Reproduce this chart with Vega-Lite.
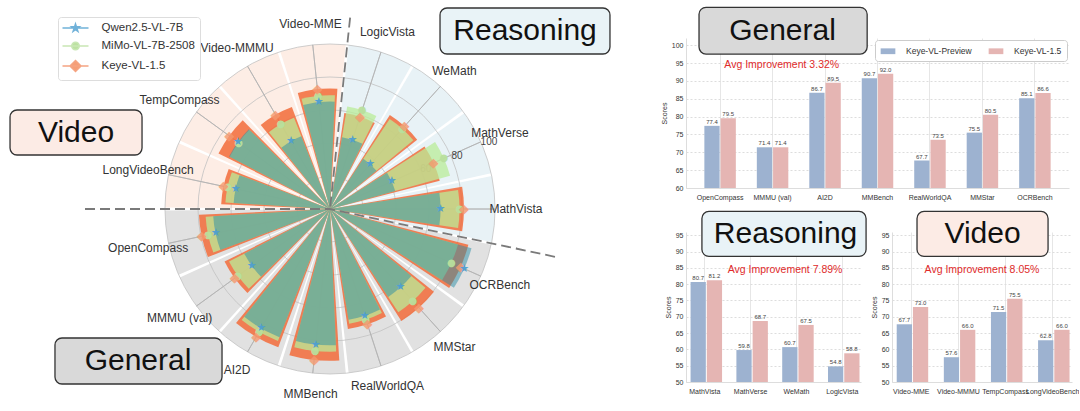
{
  "$schema": "https://vega.github.io/schema/vega-lite/v6.json",
  "padding": {"left": 0, "top": 6, "right": 0, "bottom": 0},
  "spacing": 0,
  "config": {
    "view": {"stroke": null},
    "font": "Liberation Sans",
    "axisY": {"titleFontSize": 7, "titleFontWeight": "normal", "titleColor": "#333333", "titlePadding": 4, "labelFontSize": 7, "labelColor": "#333333", "ticks": false, "domainColor": "#dddddd", "grid": true, "gridColor": "#dddddd", "gridDash": [2, 2], "labelPadding": 3, "labelOverlap": false},
    "axisX": {"labelAngle": 0, "labelFontSize": 7, "labelColor": "#333333", "ticks": false, "domainColor": "#dddddd", "grid": true, "gridColor": "#e6e6e6", "labelPadding": 5, "labelOverlap": false}
  },
  "resolve": {"scale": {"color": "independent", "fill": "independent"}, "legend": {"color": "independent", "fill": "independent"}},
  "datasets": {
    "radar": [
      {"k": 0, "bench": "LogicVista", "cat": "Reasoning", "qwen": 44.1, "mimo": 63.0, "keye": 58.8},
      {"k": 1, "bench": "WeMath", "cat": "Reasoning", "qwen": 36.5, "mimo": 65.5, "keye": 67.5},
      {"k": 2, "bench": "MathVerse", "cat": "Reasoning", "qwen": 41.0, "mimo": 75.5, "keye": 68.7},
      {"k": 3, "bench": "MathVista", "cat": "Reasoning", "qwen": 67.0, "mimo": 78.5, "keye": 81.2},
      {"k": 4, "bench": "OCRBench", "cat": "General", "qwen": 89.0, "mimo": 80.5, "keye": 86.6},
      {"k": 5, "bench": "MMStar", "cat": "General", "qwen": 63.9, "mimo": 75.0, "keye": 80.5},
      {"k": 6, "bench": "RealWorldQA", "cat": "General", "qwen": 68.0, "mimo": 70.5, "keye": 73.5},
      {"k": 7, "bench": "MMBench", "cat": "General", "qwen": 82.6, "mimo": 86.5, "keye": 92.0},
      {"k": 8, "bench": "AI2D", "cat": "General", "qwen": 83.5, "mimo": 86.0, "keye": 89.5},
      {"k": 9, "bench": "MMMU (val)", "cat": "General", "qwen": 58.6, "mimo": 69.0, "keye": 71.4},
      {"k": 10, "bench": "OpenCompass", "cat": "General", "qwen": 70.9, "mimo": 75.5, "keye": 79.5},
      {"k": 11, "bench": "LongVideoBench", "cat": "Video", "qwen": 58.5, "mimo": 63.5, "keye": 66.0},
      {"k": 12, "bench": "TempCompass", "cat": "Video", "qwen": 69.0, "mimo": 68.5, "keye": 75.5},
      {"k": 13, "bench": "Video-MMMU", "cat": "Video", "qwen": 47.4, "mimo": 59.5, "keye": 66.0},
      {"k": 14, "bench": "Video-MME", "cat": "Video", "qwen": 65.1, "mimo": 69.0, "keye": 73.0}
    ],
    "grid": [{"g": 20}, {"g": 40}, {"g": 60}, {"g": 80}, {"g": 100}],
    "general": [
      {"bench": "OpenCompass", "model": "preview", "score": 77.4}, {"bench": "OpenCompass", "model": "v15", "score": 79.5},
      {"bench": "MMMU (val)", "model": "preview", "score": 71.4}, {"bench": "MMMU (val)", "model": "v15", "score": 71.4},
      {"bench": "AI2D", "model": "preview", "score": 86.7}, {"bench": "AI2D", "model": "v15", "score": 89.5},
      {"bench": "MMBench", "model": "preview", "score": 90.7}, {"bench": "MMBench", "model": "v15", "score": 92.0},
      {"bench": "RealWorldQA", "model": "preview", "score": 67.7}, {"bench": "RealWorldQA", "model": "v15", "score": 73.5},
      {"bench": "MMStar", "model": "preview", "score": 75.5}, {"bench": "MMStar", "model": "v15", "score": 80.5},
      {"bench": "OCRBench", "model": "preview", "score": 85.1}, {"bench": "OCRBench", "model": "v15", "score": 86.6}
    ],
    "reasoning": [
      {"bench": "MathVista", "model": "preview", "score": 80.7}, {"bench": "MathVista", "model": "v15", "score": 81.2},
      {"bench": "MathVerse", "model": "preview", "score": 59.8}, {"bench": "MathVerse", "model": "v15", "score": 68.7},
      {"bench": "WeMath", "model": "preview", "score": 60.7}, {"bench": "WeMath", "model": "v15", "score": 67.5},
      {"bench": "LogicVista", "model": "preview", "score": 54.8}, {"bench": "LogicVista", "model": "v15", "score": 58.8}
    ],
    "video": [
      {"bench": "Video-MME", "model": "preview", "score": 67.7}, {"bench": "Video-MME", "model": "v15", "score": 73.0},
      {"bench": "Video-MMMU", "model": "preview", "score": 57.6}, {"bench": "Video-MMMU", "model": "v15", "score": 66.0},
      {"bench": "TempCompass", "model": "preview", "score": 71.5}, {"bench": "TempCompass", "model": "v15", "score": 75.5},
      {"bench": "LongVideoBench", "model": "preview", "score": 62.8}, {"bench": "LongVideoBench", "model": "v15", "score": 66.0}
    ]
  },
  "hconcat": [
    {
      "width": 660,
      "height": 342,
      "layer": [
        {
          "data": {"name": "radar"},
          "mark": {"type": "arc", "thetaOffset": -0.2007, "theta2Offset": 0.2007},
          "encoding": {
            "theta": {"field": "k", "type": "quantitative", "stack": null, "scale": {"domain": [0, 15], "range": [0.31416, 6.59734], "zero": false, "nice": false}},
            "theta2": {"field": "k"},
            "radius": {"datum": 100, "type": "quantitative", "stack": null, "scale": {"type": "linear", "domain": [0, 100], "range": [0, 165], "zero": true, "nice": false}},
            "fill": {"field": "cat", "type": "nominal", "scale": {"domain": ["Reasoning", "General", "Video"], "range": ["#e8f2f6", "#e1e1e1", "#fdede5"]}, "legend": null}
          }
        },
        {
          "data": {"name": "grid"},
          "mark": {"type": "arc", "theta": 0, "theta2": 6.2832, "fill": "transparent", "stroke": "#c2c2c2", "strokeWidth": 0.8},
          "encoding": {
            "radius": {"field": "g", "type": "quantitative", "stack": null, "scale": {"type": "linear", "domain": [0, 100], "range": [0, 165], "zero": true, "nice": false}}
          }
        },
        {
          "data": {"name": "radar"},
          "mark": {"type": "arc", "fill": "transparent", "stroke": "#b3b3b3", "strokeWidth": 0.8},
          "encoding": {
            "theta": {"field": "k", "type": "quantitative", "stack": null},
            "theta2": {"field": "k"},
            "radius": {"datum": 100, "type": "quantitative", "stack": null}
          }
        },
        {
          "data": {"values": [{}]},
          "mark": {"type": "text", "fontSize": 10, "color": "#555555"},
          "encoding": {
            "theta": {"datum": 2.05, "type": "quantitative", "stack": null},
            "radius": {"datum": 63, "type": "quantitative", "stack": null},
            "text": {"value": "60"}
          }
        },
        {
          "data": {"name": "radar"},
          "mark": {"type": "arc", "fill": "#f26b3a", "fillOpacity": 0.85, "thetaOffset": -0.166, "theta2Offset": 0.166},
          "encoding": {
            "theta": {"field": "k", "type": "quantitative", "stack": null},
            "theta2": {"field": "k"},
            "radius": {"field": "keye", "type": "quantitative", "stack": null}
          }
        },
        {
          "data": {"name": "radar"},
          "mark": {"type": "arc", "fill": "#b9ec98", "fillOpacity": 0.75, "thetaOffset": -0.148, "theta2Offset": 0.148},
          "encoding": {
            "theta": {"field": "k", "type": "quantitative", "stack": null},
            "theta2": {"field": "k"},
            "radius": {"field": "mimo", "type": "quantitative", "stack": null}
          }
        },
        {
          "data": {"name": "radar"},
          "mark": {"type": "arc", "fill": "#2c8ea5", "fillOpacity": 0.5, "thetaOffset": -0.148, "theta2Offset": 0.148},
          "encoding": {
            "theta": {"field": "k", "type": "quantitative", "stack": null},
            "theta2": {"field": "k"},
            "radius": {"field": "qwen", "type": "quantitative", "stack": null}
          }
        },
        {
          "data": {"values": [{}]},
          "mark": {"type": "text", "fontSize": 10, "color": "#444444"},
          "encoding": {
            "theta": {"datum": 2.05, "type": "quantitative", "stack": null},
            "radius": {"datum": 83.5, "type": "quantitative", "stack": null},
            "text": {"value": "80"}
          }
        },
        {
          "data": {"values": [{}]},
          "mark": {"type": "text", "fontSize": 10, "color": "#444444"},
          "encoding": {
            "theta": {"datum": 2.05, "type": "quantitative", "stack": null},
            "radius": {"datum": 104.5, "type": "quantitative", "stack": null},
            "text": {"value": "100"}
          }
        },
        {
          "data": {"name": "radar"},
          "transform": [{"fold": ["mimo", "keye", "qwen"], "as": ["model", "score"]}],
          "mark": {"type": "text", "font": "DejaVu Sans", "align": "center", "baseline": "middle"},
          "encoding": {
            "theta": {"field": "k", "type": "quantitative", "stack": null},
            "radius": {"field": "score", "type": "quantitative", "stack": null},
            "text": {"condition": [{"test": "datum.model === 'qwen'", "value": "★"}, {"test": "datum.model === 'mimo'", "value": "●"}], "value": "◆"},
            "size": {"condition": [{"test": "datum.model === 'qwen'", "value": 11}, {"test": "datum.model === 'mimo'", "value": 10}], "value": 13},
            "opacity": {"condition": [{"test": "datum.model === 'keye'", "value": 0.8}], "value": 0.95},
            "color": {
              "field": "model", "type": "nominal",
              "scale": {"domain": ["qwen", "mimo", "keye"], "range": ["#4f9fd2", "#b9e09d", "#f5996f"]},
              "legend": {
                "title": null,
                "orient": "none",
                "legendX": 58,
                "legendY": -21,
                "labelExpr": "datum.value === 'qwen' ? 'Qwen2.5-VL-7B' : datum.value === 'mimo' ? 'MiMo-VL-7B-2508' : 'Keye-VL-1.5'",
                "labelFontSize": 11.5,
                "labelColor": "#333333",
                "labelFont": "Liberation Sans",
                "symbolSize": 100,
                "symbolStrokeWidth": 1.5,
                "symbolOffset": 6.5,
                "labelOffset": 20,
                "rowPadding": 4,
                "padding": 5,
                "strokeColor": "#dddddd",
                "fillColor": "#ffffff",
                "cornerRadius": 3,
                "encoding": {
                  "symbols": {
                    "shape": {"condition": [
                      {"test": "datum.value === 'qwen'", "value": "M-2.6,0H2.6M0,-0.8L0.18,-0.247L0.761,-0.247L0.29,0.094L0.47,0.647L0,0.306L-0.47,0.647L-0.29,0.094L-0.761,-0.247L-0.18,-0.247Z"},
                      {"test": "datum.value === 'mimo'", "value": "M-2.6,0H2.6M0.75,0A0.75,0.75 0 1 1 -0.75,0A0.75,0.75 0 1 1 0.75,0Z"}
                    ], "value": "M-2.6,0H2.6M0,-1.1L1.1,0L0,1.1L-1.1,0Z"},
                    "stroke": {"condition": [
                      {"test": "datum.value === 'qwen'", "value": "#6aaed8"},
                      {"test": "datum.value === 'mimo'", "value": "#c6e6b0"}
                    ], "value": "#f5a07c"}
                  }
                }
              }
            }
          }
        },
        {
          "data": {"name": "radar"},
          "mark": {"type": "text", "fontSize": 12, "color": "#333333", "align": "center", "baseline": "middle"},
          "encoding": {
            "theta": {"field": "k", "type": "quantitative", "stack": null},
            "radius": {"datum": 112.7, "type": "quantitative", "stack": null},
            "text": {"field": "bench", "type": "nominal"}
          }
        },
        {
          "data": {"values": [{}]},
          "mark": {"type": "arc", "fill": "transparent", "stroke": "#7a7a7a", "strokeWidth": 1.8, "strokeDash": [10, 5]},
          "encoding": {
            "theta": {"datum": -0.5, "type": "quantitative", "stack": null},
            "theta2": {"datum": -0.5},
            "radius": {"datum": 116.667, "type": "quantitative", "stack": null}
          }
        },
        {
          "data": {"values": [{}]},
          "mark": {"type": "arc", "fill": "transparent", "stroke": "#7a7a7a", "strokeWidth": 1.8, "strokeDash": [10, 5]},
          "encoding": {
            "theta": {"datum": 3.5, "type": "quantitative", "stack": null},
            "theta2": {"datum": 3.5},
            "radius": {"datum": 139.394, "type": "quantitative", "stack": null}
          }
        },
        {
          "data": {"values": [{}]},
          "mark": {"type": "arc", "fill": "transparent", "stroke": "#7a7a7a", "strokeWidth": 1.8, "strokeDash": [10, 5]},
          "encoding": {
            "theta": {"datum": 10.5, "type": "quantitative", "stack": null},
            "theta2": {"datum": 10.5},
            "radius": {"datum": 148.485, "type": "quantitative", "stack": null}
          }
        },
        {
          "data": {"values": [{}]},
          "mark": {"type": "rect", "cornerRadius": 7, "fill": "#fcebe5", "stroke": "#333333", "strokeWidth": 1.3},
          "encoding": {
            "x": {"datum": 0.0152, "type": "quantitative", "scale": {"domain": [0, 1], "nice": false, "zero": false}, "axis": null},
            "x2": {"datum": 0.2152},
            "y": {"datum": 0.2105, "type": "quantitative", "scale": {"domain": [0, 1], "nice": false, "zero": false, "reverse": true}, "axis": null},
            "y2": {"datum": 0.3421}
          }
        },
        {
          "data": {"values": [{}]},
          "mark": {"type": "text", "fontSize": 30, "color": "#111111", "align": "center", "baseline": "middle"},
          "encoding": {
            "x": {"datum": 0.1152, "type": "quantitative"},
            "y": {"datum": 0.2778, "type": "quantitative"},
            "text": {"value": "Video"}
          }
        },
        {
          "data": {"values": [{}]},
          "mark": {"type": "rect", "cornerRadius": 7, "fill": "#e9f3f7", "stroke": "#333333", "strokeWidth": 1.3},
          "encoding": {
            "x": {"datum": 0.6667, "type": "quantitative"},
            "x2": {"datum": 0.9242},
            "y": {"datum": -0.0877, "type": "quantitative"},
            "y2": {"datum": 0.0468}
          }
        },
        {
          "data": {"values": [{}]},
          "mark": {"type": "text", "fontSize": 30, "color": "#111111", "align": "center", "baseline": "middle"},
          "encoding": {
            "x": {"datum": 0.7955, "type": "quantitative"},
            "y": {"datum": -0.0205, "type": "quantitative"},
            "text": {"value": "Reasoning"}
          }
        },
        {
          "data": {"values": [{}]},
          "mark": {"type": "rect", "cornerRadius": 7, "fill": "#d9d9d9", "stroke": "#333333", "strokeWidth": 1.3},
          "encoding": {
            "x": {"datum": 0.0833, "type": "quantitative"},
            "x2": {"datum": 0.3364},
            "y": {"datum": 0.8772, "type": "quantitative"},
            "y2": {"datum": 1.0117}
          }
        },
        {
          "data": {"values": [{}]},
          "mark": {"type": "text", "fontSize": 30, "color": "#111111", "align": "center", "baseline": "middle"},
          "encoding": {
            "x": {"datum": 0.2091, "type": "quantitative"},
            "y": {"datum": 0.9444, "type": "quantitative"},
            "text": {"value": "General"}
          }
        }
      ]
    },
    {
      "spacing": 10,
      "resolve": {"scale": {"color": "independent"}, "legend": {"color": "independent"}},
      "vconcat": [
        {
          "width": 383,
          "height": 150,
          "resolve": {"scale": {"x": "independent"}},
          "layer": [
            {
              "data": {"name": "general"},
              "encoding": {
                "x": {"field": "bench", "type": "nominal", "sort": null, "scale": {"paddingInner": 0.4, "paddingOuter": 0.35}, "axis": {"title": null}},
                "xOffset": {"field": "model", "type": "nominal", "sort": ["preview", "v15"], "scale": {"paddingInner": 0.06}},
                "y": {"field": "score", "type": "quantitative", "scale": {"domain": [60, 102], "nice": false, "zero": false},
                  "axis": {"title": "Scores", "values": [60, 65, 70, 75, 80, 85, 90, 95, 100]}}
              },
              "layer": [
                {
                  "mark": {"type": "bar"},
                  "encoding": {
                    "y2": {"datum": 60},
                    "color": {"field": "model", "type": "nominal", "scale": {"domain": ["preview", "v15"], "range": ["#9db2d0", "#e5b5b3"]},
                      "legend": {"title": null, "orient": "top-right", "direction": "horizontal", "offset": 2,
                        "labelExpr": "datum.value === 'preview' ? 'Keye-VL-Preview' : 'Keye-VL-1.5'",
                        "labelFontSize": 8.5, "labelColor": "#333333", "symbolType": "M-1.4,-0.55H1.4V0.55H-1.4Z", "symbolSize": 110,
                        "symbolOffset": 2, "labelOffset": 12, "columnPadding": 16, "padding": 5,
                        "strokeColor": "#cccccc", "fillColor": "#ffffff", "cornerRadius": 3}}
                  }
                },
                {
                  "mark": {"type": "text", "dy": -4, "fontSize": 6, "color": "#444444"},
                  "encoding": {"text": {"field": "score", "type": "quantitative", "format": ".1f"}}
                }
              ]
            },
            {
              "data": {"values": [{}]},
              "mark": {"type": "text", "fontSize": 10.5, "color": "#e02a2a"},
              "encoding": {
                "x": {"datum": 0.25, "type": "quantitative", "scale": {"domain": [0, 1], "nice": false, "zero": false}, "axis": null},
                "y": {"datum": 94.4, "type": "quantitative", "axis": {"title": "Scores", "values": [60, 65, 70, 75, 80, 85, 90, 95, 100]}},
                "text": {"value": "Avg Improvement 3.32%"}
              }
            },
            {
              "data": {"values": [{}]},
              "mark": {"type": "rect", "cornerRadius": 7, "fill": "#d9d9d9", "stroke": "#333333", "strokeWidth": 1.3},
              "encoding": {
                "x": {"datum": 0.034, "type": "quantitative", "scale": {"domain": [0, 1], "nice": false, "zero": false}, "axis": null},
                "x2": {"datum": 0.473},
                "y": {"datum": 110.6, "type": "quantitative", "axis": {"title": "Scores", "values": [60, 65, 70, 75, 80, 85, 90, 95, 100]}},
                "y2": {"datum": 97.5}
              }
            },
            {
              "data": {"values": [{}]},
              "mark": {"type": "text", "fontSize": 30, "color": "#111111", "align": "center", "baseline": "middle"},
              "encoding": {
                "x": {"datum": 0.252, "type": "quantitative", "scale": {"domain": [0, 1], "nice": false, "zero": false}, "axis": null},
                "y": {"datum": 104, "type": "quantitative", "axis": {"title": "Scores", "values": [60, 65, 70, 75, 80, 85, 90, 95, 100]}},
                "text": {"value": "General"}
              }
            }
          ]
        },
        {
          "spacing": 3,
          "hconcat": [
            {
              "width": 175,
              "height": 150,
              "resolve": {"scale": {"x": "independent"}},
              "layer": [
                {
                  "data": {"name": "reasoning"},
                  "encoding": {
                    "x": {"field": "bench", "type": "nominal", "sort": null, "scale": {"paddingInner": 0.38, "paddingOuter": 0.1}, "axis": {"title": null}},
                    "xOffset": {"field": "model", "type": "nominal", "sort": ["preview", "v15"], "scale": {"paddingInner": 0.06}},
                    "y": {"field": "score", "type": "quantitative", "scale": {"domain": [50, 96], "nice": false, "zero": false},
                      "axis": {"title": "Scores", "values": [50, 55, 60, 65, 70, 75, 80, 85, 90, 95]}}
                  },
                  "layer": [
                    {
                      "mark": {"type": "bar"},
                      "encoding": {
                        "y2": {"datum": 50},
                        "color": {"field": "model", "type": "nominal", "scale": {"domain": ["preview", "v15"], "range": ["#9db2d0", "#e5b5b3"]}, "legend": null}
                      }
                    },
                    {
                      "mark": {"type": "text", "dy": -4, "fontSize": 6, "color": "#444444"},
                      "encoding": {"text": {"field": "score", "type": "quantitative", "format": ".1f"}}
                    }
                  ]
                },
                {
                  "data": {"values": [{}]},
                  "mark": {"type": "text", "fontSize": 10.5, "color": "#e02a2a"},
                  "encoding": {
                    "x": {"datum": 0.566, "type": "quantitative", "scale": {"domain": [0, 1], "nice": false, "zero": false}, "axis": null},
                    "y": {"datum": 84.2, "type": "quantitative", "axis": {"title": "Scores", "values": [50, 55, 60, 65, 70, 75, 80, 85, 90, 95]}},
                    "text": {"value": "Avg Improvement 7.89%"}
                  }
                },
                {
                  "data": {"values": [{}]},
                  "mark": {"type": "rect", "cornerRadius": 7, "fill": "#e9f3f7", "stroke": "#333333", "strokeWidth": 1.3},
                  "encoding": {
                    "x": {"datum": 0.091, "type": "quantitative", "scale": {"domain": [0, 1], "nice": false, "zero": false}, "axis": null},
                    "x2": {"datum": 1.029},
                    "y": {"datum": 102.3, "type": "quantitative", "axis": {"title": "Scores", "values": [50, 55, 60, 65, 70, 75, 80, 85, 90, 95]}},
                    "y2": {"datum": 88.5}
                  }
                },
                {
                  "data": {"values": [{}]},
                  "mark": {"type": "text", "fontSize": 30, "color": "#111111", "align": "center", "baseline": "middle"},
                  "encoding": {
                    "x": {"datum": 0.569, "type": "quantitative", "scale": {"domain": [0, 1], "nice": false, "zero": false}, "axis": null},
                    "y": {"datum": 95.4, "type": "quantitative", "axis": {"title": "Scores", "values": [50, 55, 60, 65, 70, 75, 80, 85, 90, 95]}},
                    "text": {"value": "Reasoning"}
                  }
                }
              ]
            },
            {
              "width": 180,
              "height": 150,
              "resolve": {"scale": {"x": "independent"}},
              "layer": [
                {
                  "data": {"name": "video"},
                  "encoding": {
                    "x": {"field": "bench", "type": "nominal", "sort": null, "scale": {"paddingInner": 0.38, "paddingOuter": 0.1}, "axis": {"title": null}},
                    "xOffset": {"field": "model", "type": "nominal", "sort": ["preview", "v15"], "scale": {"paddingInner": 0.06}},
                    "y": {"field": "score", "type": "quantitative", "scale": {"domain": [50, 96], "nice": false, "zero": false},
                      "axis": {"title": "Scores", "values": [50, 55, 60, 65, 70, 75, 80, 85, 90, 95]}}
                  },
                  "layer": [
                    {
                      "mark": {"type": "bar"},
                      "encoding": {
                        "y2": {"datum": 50},
                        "color": {"field": "model", "type": "nominal", "scale": {"domain": ["preview", "v15"], "range": ["#9db2d0", "#e5b5b3"]}, "legend": null}
                      }
                    },
                    {
                      "mark": {"type": "text", "dy": -4, "fontSize": 6, "color": "#444444"},
                      "encoding": {"text": {"field": "score", "type": "quantitative", "format": ".1f"}}
                    }
                  ]
                },
                {
                  "data": {"values": [{}]},
                  "mark": {"type": "text", "fontSize": 10.5, "color": "#e02a2a"},
                  "encoding": {
                    "x": {"datum": 0.5, "type": "quantitative", "scale": {"domain": [0, 1], "nice": false, "zero": false}, "axis": null},
                    "y": {"datum": 84.2, "type": "quantitative", "axis": {"title": "Scores", "values": [50, 55, 60, 65, 70, 75, 80, 85, 90, 95]}},
                    "text": {"value": "Avg Improvement 8.05%"}
                  }
                },
                {
                  "data": {"values": [{}]},
                  "mark": {"type": "rect", "cornerRadius": 7, "fill": "#fcebe5", "stroke": "#333333", "strokeWidth": 1.3},
                  "encoding": {
                    "x": {"datum": 0.139, "type": "quantitative", "scale": {"domain": [0, 1], "nice": false, "zero": false}, "axis": null},
                    "x2": {"datum": 0.867},
                    "y": {"datum": 102.3, "type": "quantitative", "axis": {"title": "Scores", "values": [50, 55, 60, 65, 70, 75, 80, 85, 90, 95]}},
                    "y2": {"datum": 88.5}
                  }
                },
                {
                  "data": {"values": [{}]},
                  "mark": {"type": "text", "fontSize": 30, "color": "#111111", "align": "center", "baseline": "middle"},
                  "encoding": {
                    "x": {"datum": 0.503, "type": "quantitative", "scale": {"domain": [0, 1], "nice": false, "zero": false}, "axis": null},
                    "y": {"datum": 95.4, "type": "quantitative", "axis": {"title": "Scores", "values": [50, 55, 60, 65, 70, 75, 80, 85, 90, 95]}},
                    "text": {"value": "Video"}
                  }
                }
              ]
            }
          ]
        }
      ]
    }
  ]
}
